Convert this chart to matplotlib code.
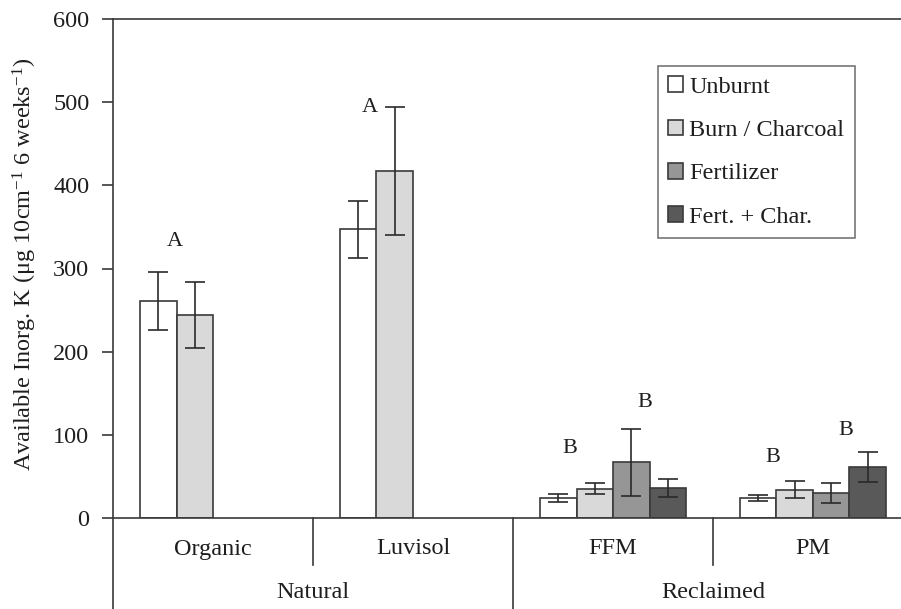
import numpy as np
import matplotlib
matplotlib.use("Agg")
import matplotlib.pyplot as plt
from matplotlib.patches import Patch

plt.rcParams["font.family"] = ["Liberation Serif", "DejaVu Serif"]
plt.rcParams["mathtext.fontset"] = "custom"
plt.rcParams["mathtext.rm"] = "Liberation Serif"
plt.rcParams["mathtext.it"] = "Liberation Serif:italic"

# Data
categories = ["Organic", "Luvisol", "FFM", "PM"]
groups = ["Natural", "Reclaimed"]
series = ["Unburnt", "Burn / Charcoal", "Fertilizer", "Fert. + Char."]

unburnt = [261, 347, 24, 24]
burn_charcoal = [244, 417, 35, 34]
fertilizer = [np.nan, np.nan, 67, 30]
fert_char = [np.nan, np.nan, 36, 61]

unburnt_err = [35, 34, 5, 3.5]
burn_charcoal_err = [40, 77, 6.5, 10.5]
fertilizer_err = [np.nan, np.nan, 40.5, 12]
fert_char_err = [np.nan, np.nan, 10.5, 18]

# Significance letters: (category index, x offset, value, text)
letter_cat = [0, 1, 2, 2, 3, 3]
letter_off = [-0.19, -0.215, -0.215, 0.16, -0.2, 0.165]
letter_val = [332, 494, 83, 139, 73, 105]
letter_txt = ["A", "A", "B", "B", "B", "B"]

colors = ["#ffffff", "#d9d9d9", "#969696", "#595959"]
edge = "#3a3a3a"
text_c = "#1e1e1e"
fs = 17.5

W, H = 901, 609
fig = plt.figure(figsize=(W / 100, H / 100), dpi=100)
left, right = 113 / W, 913 / W
bottom, top = 1 - 518 / H, 1 - 19 / H
ax = fig.add_axes([left, bottom, right - left, top - bottom])

x = np.arange(len(categories))
bw = 0.1825
vals = [unburnt, burn_charcoal, fertilizer, fert_char]
errs = [unburnt_err, burn_charcoal_err, fertilizer_err, fert_char_err]
for k, (v, e, c, name) in enumerate(zip(vals, errs, colors, series)):
    pos = x + (k - 1.5) * bw
    ax.bar(pos, v, width=bw, color=c, edgecolor=edge, linewidth=1.2, label=name, zorder=2)
    ax.errorbar(pos, v, yerr=e, fmt="none", ecolor="#2a2a2a", elinewidth=1.2,
                capsize=7, capthick=1.2, zorder=3)

for ci, off, val, t in zip(letter_cat, letter_off, letter_val, letter_txt):
    ax.text(ci + off, val, t, ha="center", va="center", fontsize=16, color=text_c)

ax.set_xlim(-0.5, 3.5)
ax.set_ylim(0, 600)
ax.set_yticks(np.arange(0, 601, 100))
ax.tick_params(axis="y", direction="out", length=8, width=1.2, color=edge,
               labelsize=fs, labelcolor=text_c, pad=9)
ax.set_xticks([])
for s in ["left", "bottom", "top"]:
    ax.spines[s].set_color(edge)
    ax.spines[s].set_linewidth(1.2)
ax.spines["right"].set_visible(False)
ax.spines["bottom"].set_zorder(4)

# Two-level category axis below the plot
tr = ax.get_xaxis_transform()
ah = 499.0
for xb in [0.5, 2.5]:
    ax.plot([xb, xb], [0, -47 / ah], transform=tr, color=edge, lw=1.2, clip_on=False)
for xb in [-0.5, 1.5]:
    ax.plot([xb, xb], [0, -95 / ah], transform=tr, color=edge, lw=1.2, clip_on=False)
for i, c in enumerate(categories):
    ax.text(i, -31 / ah, c, transform=tr, ha="center", va="center", fontsize=fs, color=text_c)
for gx, g in zip([0.5, 2.5], groups):
    ax.text(gx, -74 / ah, g, transform=tr, ha="center", va="center", fontsize=fs, color=text_c)

fig.text(25 / W, 1 - 264 / H,
         r"Available Inorg. K (μg 10cm$^{-1}$ 6 weeks$^{-1}$)",
         rotation=90, ha="center", va="center", fontsize=fs, color=text_c)

handles = [Patch(facecolor=c, edgecolor=edge, linewidth=1.2) for c in colors]
leg = fig.legend(handles, series, loc="upper left", bbox_to_anchor=(658 / W, 1 - 66 / H),
                 bbox_transform=fig.transFigure, fontsize=fs, frameon=True, fancybox=False,
                 handlelength=0.62, handleheight=0.62, handletextpad=0.25, labelspacing=0.9,
                 borderpad=0.42, borderaxespad=0)
leg.get_frame().set_edgecolor("#555555")
leg.get_frame().set_linewidth(1.2)
for t in leg.get_texts():
    t.set_color(text_c)

fig.savefig("out.png", dpi=100)
